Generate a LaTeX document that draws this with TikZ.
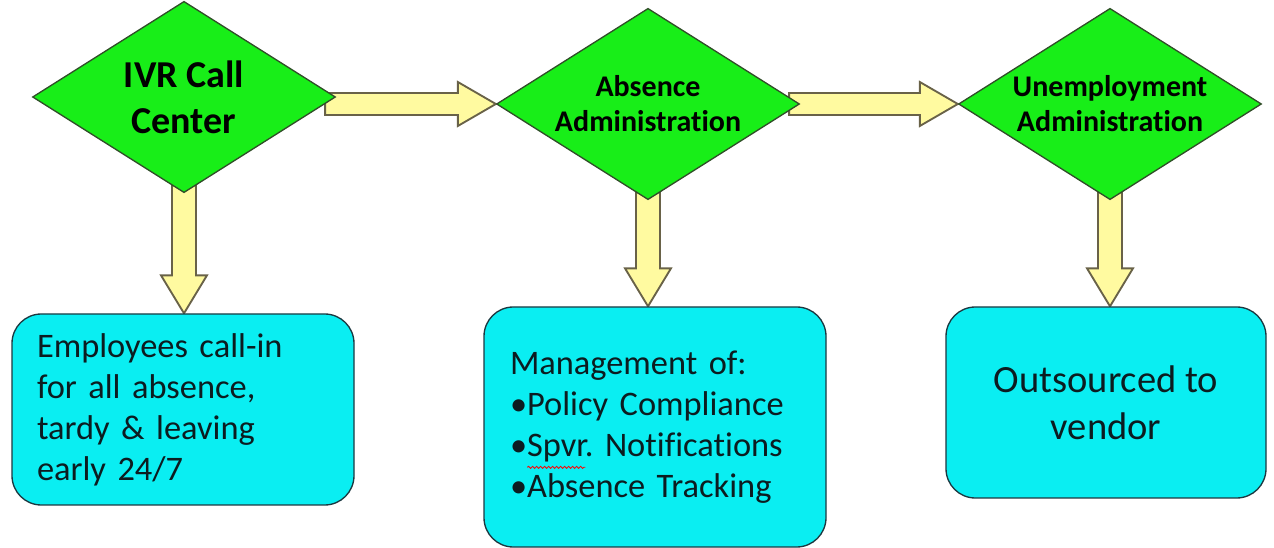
\documentclass[tikz,border=0pt]{standalone}
\usepackage{fontspec}
\setmainfont[Ligatures=NoCommon]{Carlito}
\usetikzlibrary{shapes,arrows}
\usetikzlibrary{positioning,calc,backgrounds}
\usetikzlibrary{decorations.pathmorphing}

\definecolor{stagegreen}{RGB}{24,238,24}
\definecolor{stageline}{RGB}{48,78,40}
\definecolor{notecyan}{RGB}{10,238,242}
\definecolor{noteline}{RGB}{28,56,64}
\definecolor{flowfill}{RGB}{255,250,160}
\definecolor{flowline}{RGB}{105,98,72}
\definecolor{notetext}{RGB}{12,28,32}

\tikzset{
  stage/.style={diamond, draw=stageline, fill=stagegreen, line width=1pt,
    inner sep=0pt, aspect=1.6, minimum width=227.25pt, minimum height=143.5pt,
    align=center, text=black},
  note/.style={rectangle, rounded corners=22pt, draw=noteline, fill=notecyan,
    line width=1pt, text=notetext},
  flow/.style={draw=flowline, fill=flowfill, line width=1.4pt, line join=miter},
}

% fat arrow to the right, from behind #1 to the left corner of #2
\newcommand{\eastflow}[2]{%
  \filldraw[flow]
    ($(#1.east |- #2.west)+(-11,-11)$) -- ($(#2.west)+(-38,-11)$)
    -- ($(#2.west)+(-38,-22)$) -- (#2.west) -- ($(#2.west)+(-38,22)$)
    -- ($(#2.west)+(-38,11)$) -- ($(#1.east |- #2.west)+(-11,11)$) -- cycle;}

% fat arrow downwards, from behind #1 to the top of #2
\newcommand{\southflow}[2]{%
  \filldraw[flow]
    ($(#1.south)+(-12,-8)$) -- ($(#1.south |- #2.north)+(-12,-38)$)
    -- ($(#1.south |- #2.north)+(-23,-38)$) -- (#1.south |- #2.north)
    -- ($(#1.south |- #2.north)+(23,-38)$) -- ($(#1.south |- #2.north)+(12,-38)$)
    -- ($(#1.south)+(12,-8)$) -- cycle;}

\begin{document}
\begin{tikzpicture}[x=0.75pt,y=-0.75pt]
\useasboundingbox (0,0) rectangle (1274,548);

\node[stage, font=\bfseries\fontsize{28.5}{34.5}\selectfont] (ivr) at (184,97) {IVR Call\\Center};
\node[stage, font=\bfseries\fontsize{22.5}{26.25}\selectfont] (absence) at (648,104) {Absence\\Administration};
\node[stage, font=\bfseries\fontsize{22.5}{26.25}\selectfont] (unemp) at (1110,104) {Unemployment\\Administration};

\node[note, minimum width=256.5pt, minimum height=143.25pt, text width=219pt,
  inner xsep=18.75pt, align=left, font=\frenchspacing\fontsize{25.8}{30.75}\selectfont]
  (callin) at (183,409.5) {Employees call-in\\for all absence,\\tardy \& leaving\\early 24/7};
\node[note, minimum width=256.5pt, minimum height=180pt, text width=217.5pt,
  inner xsep=19.5pt, align=left, font=\frenchspacing\fontsize{25.8}{30.75}\selectfont]
  (mgmt) at (655,427) {Management of:\\\textbullet Policy Compliance\\\textbullet Spvr. Notifications\\\textbullet Absence Tracking};
\node[note, minimum width=240pt, minimum height=143.25pt, align=center,
  font=\frenchspacing\fontsize{28.9}{35.25}\selectfont]
  (vendor) at (1106,402.5) {Outsourced to\\vendor};

\draw[red, line width=0.6pt, decorate, decoration={snake, amplitude=0.8pt, segment length=3pt}]
  ([shift={(44,161)}]mgmt.north west) -- ([shift={(102,161)}]mgmt.north west);

\begin{scope}[on background layer]
\eastflow{ivr}{absence}
\eastflow{absence}{unemp}
\southflow{ivr}{callin}
\southflow{absence}{mgmt}
\southflow{unemp}{vendor}
\end{scope}

\end{tikzpicture}
\end{document}
